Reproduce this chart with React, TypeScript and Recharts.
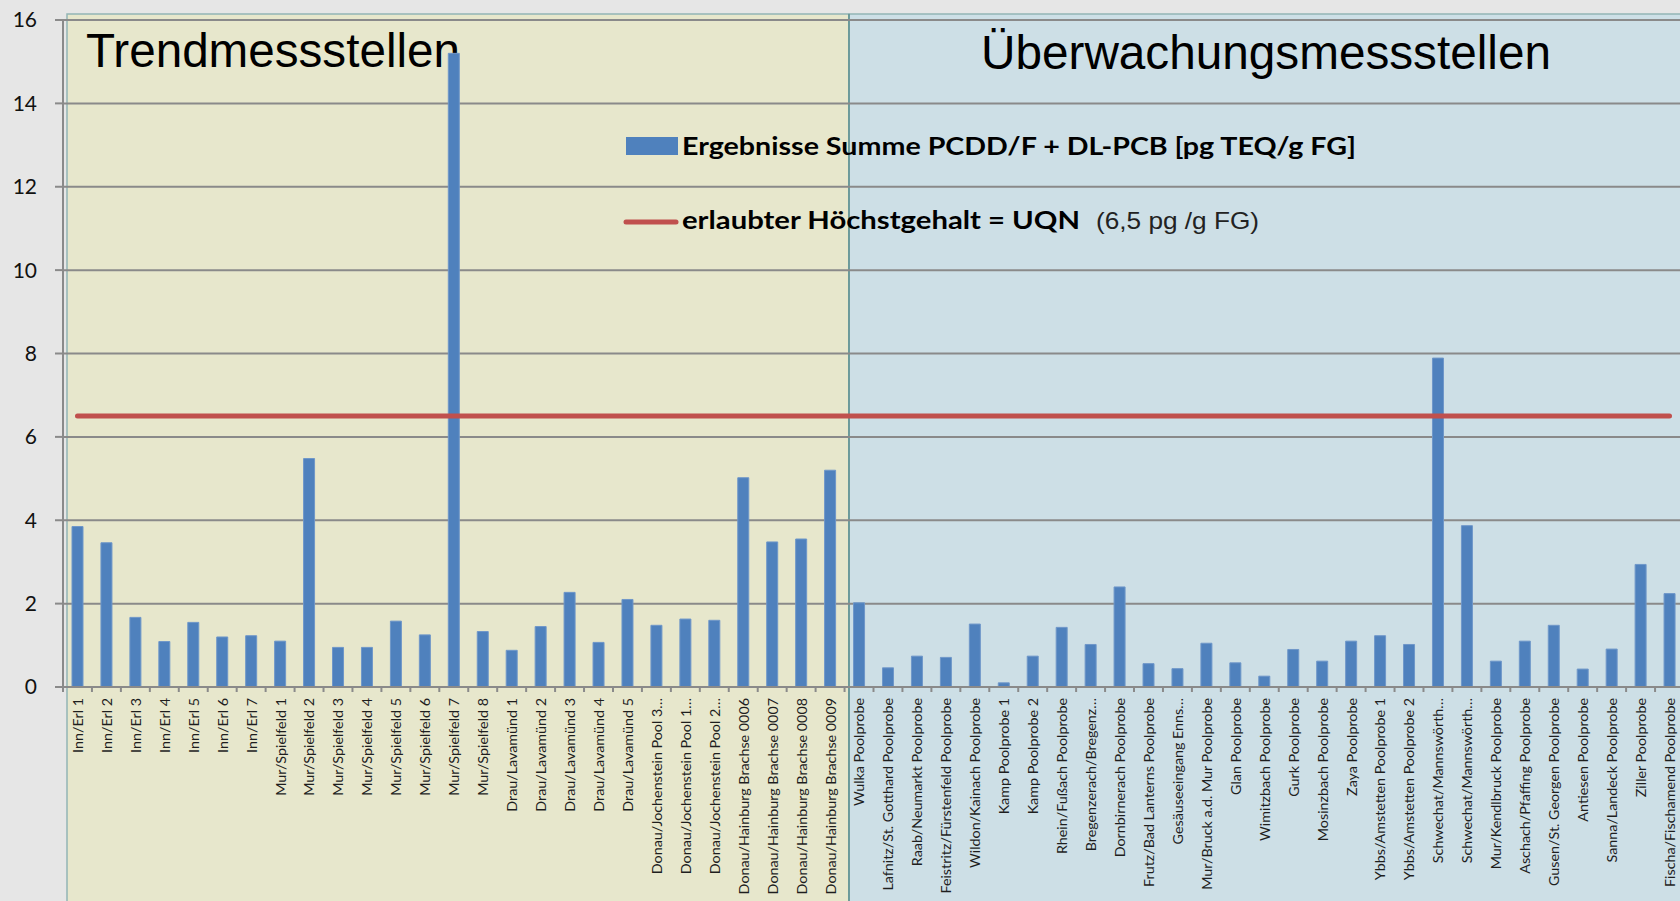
import { Bar, CartesianGrid, ComposedChart, Legend, Line, XAxis, YAxis } from "recharts";

// Trendmessstellen (left panel)
const trendStations = [
  "Inn/Erl 1",
  "Inn/Erl 2",
  "Inn/Erl 3",
  "Inn/Erl 4",
  "Inn/Erl 5",
  "Inn/Erl 6",
  "Inn/Erl 7",
  "Mur/Spielfeld 1",
  "Mur/Spielfeld 2",
  "Mur/Spielfeld 3",
  "Mur/Spielfeld 4",
  "Mur/Spielfeld 5",
  "Mur/Spielfeld 6",
  "Mur/Spielfeld 7",
  "Mur/Spielfeld 8",
  "Drau/Lavamünd 1",
  "Drau/Lavamünd 2",
  "Drau/Lavamünd 3",
  "Drau/Lavamünd 4",
  "Drau/Lavamünd 5",
  "Donau/Jochenstein Pool 3…",
  "Donau/Jochenstein Pool 1…",
  "Donau/Jochenstein Pool 2…",
  "Donau/Hainburg Brachse 0006",
  "Donau/Hainburg Brachse 0007",
  "Donau/Hainburg Brachse 0008",
  "Donau/Hainburg Brachse 0009"
];
const trendValues = [
  3.85, 3.46, 1.67, 1.09, 1.55, 1.2, 1.23, 1.1, 5.48, 0.95, 0.95, 1.58, 1.25, 15.2, 1.33,
  0.88, 1.45, 2.27, 1.07, 2.1, 1.48, 1.63, 1.6, 5.02, 3.48, 3.55, 5.2
];

// Überwachungsmessstellen (right panel)
const monitorStations = [
  "Wulka Poolprobe",
  "Lafnitz/St. Gotthard Poolprobe",
  "Raab/Neumarkt Poolprobe",
  "Feistritz/Fürstenfeld Poolprobe",
  "Wildon/Kainach Poolprobe",
  "Kamp Poolprobe 1",
  "Kamp Poolprobe 2",
  "Rhein/Fußach Poolprobe",
  "Bregenzerach/Bregenz…",
  "Dornbirnerach Poolprobe",
  "Frutz/Bad Lanterns Poolprobe",
  "Gesäuseeingang Enns…",
  "Mur/Bruck a.d. Mur Poolprobe",
  "Glan Poolprobe",
  "Wimitzbach Poolprobe",
  "Gurk Poolprobe",
  "Mosinzbach Poolprobe",
  "Zaya Poolprobe",
  "Ybbs/Amstetten Poolprobe 1",
  "Ybbs/Amstetten Poolprobe 2",
  "Schwechat/Mannswörth…",
  "Schwechat/Mannswörth… ",
  "Mur/Kendlbruck Poolprobe",
  "Aschach/Pfaffing Poolprobe",
  "Gusen/St. Georgen Poolprobe",
  "Antiesen Poolprobe",
  "Sanna/Landeck Poolprobe",
  "Ziller Poolprobe",
  "Fischa/Fischamend Poolprobe"
];
const monitorValues = [
  2.02, 0.46, 0.74, 0.71, 1.51, 0.1, 0.74, 1.43, 1.02, 2.4, 0.56, 0.44, 1.05, 0.58, 0.26,
  0.9, 0.62, 1.1, 1.23, 1.02, 7.89, 3.87, 0.62, 1.1, 1.48, 0.43, 0.91, 2.94, 2.24
];

const uqnLimit = 6.5;
const yTicks = [0, 2, 4, 6, 8, 10, 12, 14, 16];

const data = [
  ...trendStations.map((name, i) => ({ name, value: trendValues[i], uqn: uqnLimit })),
  ...monitorStations.map((name, i) => ({ name, value: monitorValues[i], uqn: uqnLimit }))
];

const CHART_W = 1684;
const CHART_H = 901;
const PLOT_LEFT = 63;
const PLOT_TOP = 20;
const PLOT_BOTTOM = 687;
const BAND = (CHART_W - PLOT_LEFT) / data.length;
const AXIS_GREY = "#8a8a8a";

function StationTick({ x, payload }: any) {
  const y = PLOT_BOTTOM + 11;
  const tx = x - BAND / 2;
  return (
    <g>
      <line x1={tx} x2={tx} y1={PLOT_BOTTOM} y2={PLOT_BOTTOM + 5} stroke={AXIS_GREY} strokeWidth={2} />
      <text
        x={x}
        y={y}
        transform={`rotate(-90 ${x} ${y})`}
        textAnchor="end"
        dy="0.38em"
        fontSize={14.3}
        fontFamily="Lato"
        fill="#1e1e1e"
      >
        {payload.value}
      </text>
    </g>
  );
}

function LegendBox({ payload }: any) {
  const bar = (payload || []).find((p: any) => p.dataKey === "value");
  const line = (payload || []).find((p: any) => p.dataKey === "uqn");
  return (
    <svg width={780} height={120} style={{ display: "block", overflow: "visible" }}>
      <rect x={6} y={12} width={52} height={18} fill={bar?.color || "#4f81bd"} />
      <text x={62} y={29.5} fontFamily="Lato" fontWeight={700} fontSize={24} fill="#000" textLength={674} lengthAdjust="spacingAndGlyphs">
        {bar?.value}
      </text>
      <line x1={6} x2={56} y1={97} y2={97} stroke={line?.color || "#c0504d"} strokeWidth={5} strokeLinecap="round" />
      <text x={62} y={104} fontFamily="Lato" fontWeight={700} fontSize={24} fill="#000" textLength={398} lengthAdjust="spacingAndGlyphs">
        {line?.value}
      </text>
      <text x={476} y={104} fontFamily="Liberation Sans" fontSize={24} fill="#222" textLength={163} lengthAdjust="spacingAndGlyphs">
        (6,5 pg /g FG)
      </text>
    </svg>
  );
}

export default function App() {
  return (
    <div
      style={{
        position: "absolute",
        left: 0,
        top: 0,
        width: 1680,
        height: 901,
        overflow: "hidden",
        background: "#e6e6e6"
      }}
    >
      <svg width={CHART_W} height={CHART_H} style={{ position: "absolute", left: 0, top: 0 }}>
        <rect x={67} y={14} width={782} height={900} fill="#e7e7cc" stroke="#93b5b5" strokeWidth={1.5} />
        <rect x={849} y={14} width={840} height={900} fill="#cddfe6" stroke="#93b5b5" strokeWidth={1.5} />
        <line x1={849} x2={849} y1={14} y2={901} stroke="#5e9090" strokeWidth={1.5} />
        <text x={86} y={67} fontFamily="Liberation Sans" fontSize={48} fill="#000" textLength={374} lengthAdjust="spacingAndGlyphs">
          Trendmessstellen
        </text>
        <text x={981} y={69} fontFamily="Liberation Sans" fontSize={48} fill="#000" textLength={570} lengthAdjust="spacingAndGlyphs">
          Überwachungsmessstellen
        </text>
      </svg>
      <div style={{ position: "absolute", left: 0, top: 0 }}>
        <ComposedChart
          width={CHART_W}
          height={CHART_H}
          data={data}
          margin={{ top: PLOT_TOP, right: 0, bottom: 0, left: 0 }}
          barCategoryGap={0}
        >
          <CartesianGrid vertical={false} stroke={AXIS_GREY} strokeWidth={2} />
          <XAxis
            dataKey="name"
            interval={0}
            height={CHART_H - PLOT_BOTTOM}
            axisLine={{ stroke: AXIS_GREY, strokeWidth: 2 }}
            tickLine={false}
            tick={<StationTick />}
          />
          <YAxis
            width={PLOT_LEFT}
            domain={[0, 16]}
            ticks={yTicks}
            interval={0}
            axisLine={{ stroke: AXIS_GREY, strokeWidth: 2 }}
            tickLine={{ stroke: AXIS_GREY, strokeWidth: 2 }}
            tickSize={8}
            tickMargin={18}
            tick={{ fontSize: 21, fill: "#111", fontFamily: "Lato" }}
          />
          <Legend
            layout="horizontal"
            verticalAlign="middle"
            align="center"
            wrapperStyle={{ left: 620, top: 125, width: 780 }}
            content={<LegendBox />}
          />
          <Bar
            dataKey="value"
            name="Ergebnisse Summe PCDD/F + DL-PCB [pg TEQ/g FG]"
            fill="#4f81bd"
            stroke="#6f97c9"
            strokeWidth={1}
            barSize={11}
            isAnimationActive={false}
          />
          <Line
            dataKey="uqn"
            name="erlaubter Höchstgehalt = UQN"
            type="linear"
            stroke="#c0504d"
            strokeWidth={5}
            strokeLinecap="round"
            dot={false}
            activeDot={false}
            isAnimationActive={false}
          />
        </ComposedChart>
      </div>
    </div>
  );
}
